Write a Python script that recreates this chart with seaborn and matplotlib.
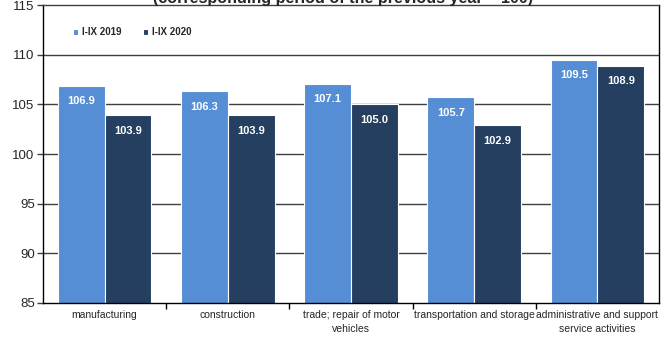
import matplotlib
matplotlib.use("Agg")
import matplotlib.pyplot as plt
import seaborn as sns
import pandas as pd
from matplotlib.ticker import FixedLocator

categories = ["manufacturing", "construction", "trade; repair of motor\nvehicles",
              "transportation and storage", "administrative and support\nservice activities"]
series_names = ["I-IX 2019", "I-IX 2020"]
values_2019 = [106.9, 106.3, 107.1, 105.7, 109.5]
values_2020 = [103.9, 103.9, 105.0, 102.9, 108.9]
y_ticks = [85, 90, 95, 100, 105, 110, 115]
title = "(corresponding period of the previous year = 100)"

sns.set_style("white")
plt.rcParams["font.family"] = ["Liberation Sans Narrow", "Liberation Sans", "DejaVu Sans"]

df = pd.DataFrame({
    "category": categories * 2,
    "series": [series_names[0]] * 5 + [series_names[1]] * 5,
    "value": values_2019 + values_2020,
})

fig = plt.figure(figsize=(6.69, 3.38), dpi=100)
ax = fig.add_axes([0.0643, 0.1036, 0.9207, 0.8814])

palette = {series_names[0]: "#558ED5", series_names[1]: "#243F60"}
sns.barplot(data=df, x="category", y="value", hue="series", palette=palette,
            saturation=1, width=0.76, edgecolor="white", linewidth=0.8, ax=ax,
            zorder=2)

ax.set_ylim(85, 115)
ax.set_xlim(-0.5, 4.5)
ax.set_yticks(y_ticks)
ax.set_yticklabels([str(t) for t in y_ticks], fontsize=9.5)
ax.set_xlabel("")
ax.set_ylabel("")

# horizontal grid behind bars
for t in y_ticks[1:-1]:
    ax.axhline(t, color="#404040", lw=1.0, zorder=1)

ax.tick_params(axis="y", direction="out", length=4, width=1, color="#404040", pad=2, left=True)
ax.tick_params(axis="x", which="major", length=0, labelsize=7.5, pad=5)
ax.xaxis.set_minor_locator(FixedLocator([0.5, 1.5, 2.5, 3.5]))
ax.tick_params(axis="x", which="minor", direction="out", length=4, width=1, color="black", bottom=True)
for lbl in ax.get_xticklabels():
    lbl.set_linespacing(1.5)
    lbl.set_va("top")

for side in ["left", "bottom", "top", "right"]:
    ax.spines[side].set_visible(True)
    ax.spines[side].set_color("black")
    ax.spines[side].set_linewidth(1.0)
ax.spines["top"].set_color("#404040")

# value labels inside the top of each bar
for container in ax.containers:
    for bar in container:
        h = bar.get_height()
        ax.annotate(f"{h:.1f}", (bar.get_x() + bar.get_width() / 2, h),
                    xytext=(0, -11), textcoords="offset points",
                    ha="center", va="center", color="white",
                    fontsize=8, fontweight="bold", zorder=5)

leg = ax.legend(loc="upper left", bbox_to_anchor=(0.035, 0.955), ncol=2, frameon=False,
                handlelength=0.5, handleheight=0.5, handletextpad=0.4, columnspacing=2.2,
                prop={"size": 7, "weight": "bold"})

fig.text(0.513, 1.0 - 3 / 338, title, ha="center", va="baseline",
         fontsize=11.6, fontweight="bold")

fig.savefig("out.png", dpi=100)
